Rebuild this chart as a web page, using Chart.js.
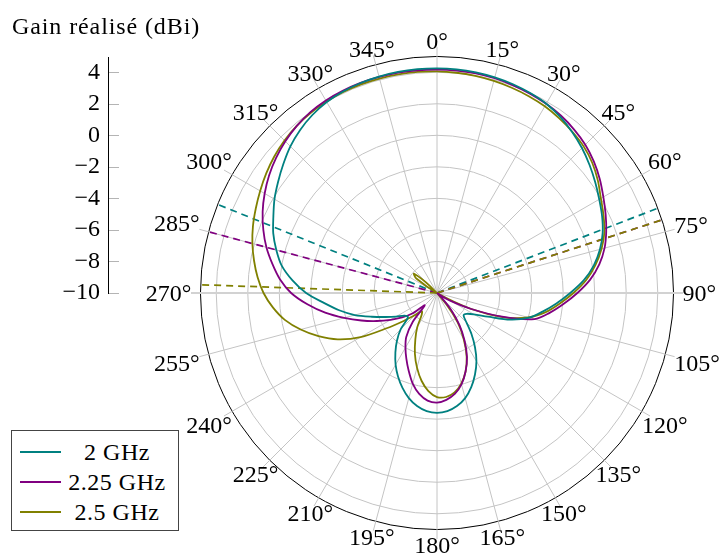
<!DOCTYPE html>
<html>
<head>
<meta charset="utf-8">
<script src="https://cdn.jsdelivr.net/npm/chart.js@4.4.1/dist/chart.umd.min.js"></script>
<style>
  html, body { margin: 0; padding: 0; background: #fff; overflow: hidden; }
  body { width: 721px; height: 557px; position: relative; font-family: "Liberation Serif", serif; color: #000; }
  canvas { position: absolute; left: 0; top: 0; }
  #ylabel { position: absolute; left: 12px; top: 14px; font-size: 24px; line-height: 24px; letter-spacing: 0.9px; white-space: nowrap; }
  #legend { position: absolute; left: 11px; top: 430px; width: 166px; height: 99px; border: 1px solid #444; background: #fff; }
  .row { position: absolute; left: 0; width: 166px; height: 30px; }
  .row .swatch { position: absolute; left: 8px; top: 14px; width: 41px; height: 2px; }
  .row .txt { position: absolute; left: 105px; top: 3px; transform: translateX(-50%); font-size: 24px; line-height: 24px; letter-spacing: 0.5px; white-space: nowrap; }
</style>
</head>
<body>
<canvas id="polar" width="721" height="557"></canvas>
<canvas id="axis" width="200" height="320"></canvas>
<div id="ylabel">Gain réalisé (dBi)</div>
<div id="legend"></div>
<script>
// ---------- données (gain réalisé en dBi, pas de 5°) ----------
const ANGLES = [0, 5, 10, 15, 20, 25, 30, 35, 40, 45, 50, 55, 60, 65, 70, 75, 80, 85,
  90, 95, 100, 105, 110, 115, 120, 125, 130, 135, 140, 145, 150, 155, 160, 165, 170, 175,
  180, 185, 190, 195, 200, 205, 210, 215, 220, 225, 230, 235, 240, 245, 250, 255, 260, 265,
  270, 275, 280, 285, 290, 295, 300, 305, 310, 315, 320, 325, 330, 335, 340, 345, 350, 355];

const GAIN_2GHZ = [4.25, 4.24, 4.21, 4.16, 4.09, 3.99, 3.86, 3.63, 3.33, 3.00, 2.63, 2.25, 1.88, 1.55, 1.18, 0.70, 0.10, -0.65,
  -1.55, -2.40, -3.20, -3.95, -5.05, -6.45, -7.30, -7.70, -7.80, -7.35, -6.60, -5.80, -5.00, -4.30, -3.65, -3.10, -2.72, -2.48,
  -2.40, -2.48, -2.72, -3.10, -3.60, -4.15, -4.75, -5.40, -6.05, -6.75, -7.60, -7.50, -7.00, -6.40, -5.60, -4.60, -3.70, -2.80,
  -1.70, -0.80, 0.00, 0.55, 1.05, 1.45, 1.90, 2.30, 2.72, 3.15, 3.50, 3.78, 3.98, 4.10, 4.17, 4.21, 4.24, 4.25];

const GAIN_225GHZ = [4.17, 4.16, 4.14, 4.10, 4.03, 3.95, 3.85, 3.72, 3.53, 3.30, 2.98, 2.60, 2.18, 1.80, 1.42, 1.00, 0.45, -0.25,
  -1.10, -1.95, -2.75, -3.60, -5.60, -7.60, -9.00, -9.90, -9.95, -9.60, -8.60, -7.50, -6.50, -5.50, -4.70, -4.00, -3.50, -3.20,
  -3.05, -3.15, -3.50, -4.05, -4.75, -5.40, -6.00, -6.60, -7.60, -8.90, -8.00, -7.30, -6.60, -5.80, -4.90, -3.90, -2.80, -1.75,
  -0.75, 0.00, 0.60, 1.20, 1.72, 2.20, 2.62, 3.00, 3.32, 3.60, 3.83, 4.00, 4.10, 4.15, 4.18, 4.19, 4.19, 4.18];

const GAIN_25GHZ = [4.05, 4.02, 3.98, 3.92, 3.85, 3.77, 3.67, 3.52, 3.35, 3.15, 2.85, 2.45, 2.00, 1.65, 1.30, 0.80, 0.20, -0.50,
  -1.35, -2.20, -3.00, -4.00, -5.50, -7.60, -10.00, -11.60, -11.90, -10.60, -9.10, -7.70, -6.60, -5.55, -4.70, -4.05, -3.60, -3.38,
  -3.40, -3.75, -4.35, -5.10, -5.90, -6.75, -7.50, -8.30, -8.50, -8.00, -7.24, -6.10, -4.40, -3.05, -2.00, -1.05, -0.20, 0.45,
  1.00, 1.42, 1.78, 2.12, 2.42, 2.68, 2.95, 3.22, 3.47, 3.68, 3.84, 3.95, 4.02, 4.06, 4.08, 4.08, 4.08, 4.07];

// angles d'ouverture à -3 dB (traits pointillés)
const HALF_POWER_2GHZ = [69, 292];
const HALF_POWER_225GHZ = [72, 285];
const HALF_POWER_25GHZ = [72, 272];

const SERIES_NAMES = ["2 GHz", "2.25 GHz", "2.5 GHz"];
const ANGLE_TICKS = [0, 15, 30, 45, 60, 75, 90, 105, 120, 135, 150, 165, 180, 195, 210, 225, 240, 255, 270, 285, 300, 315, 330, 345];
const RING_TICKS = [-10, -8, -6, -4, -2, 0, 2, 4, 5];
const GAIN_TICKS = [-10, -8, -6, -4, -2, 0, 2, 4];
const GAIN_MIN = -10, GAIN_MAX = 5;

// ---------- styles ----------
const COLORS = ["#008080", "#800080", "#808000"];
const FONT = '"Liberation Serif", serif';
Chart.defaults.font.family = FONT;
Chart.defaults.color = "#000";

// ---------- helpers ----------
function toSlots(angles, gains) {
  const arr = new Array(360).fill(null);
  angles.forEach((a, i) => { arr[a % 360] = gains[i]; });
  return arr;
}
function rayslots(list) {
  const arr = new Array(360).fill(null);
  list.forEach(a => { arr[(a + 359) % 360] = GAIN_MIN; arr[a % 360] = GAIN_MAX; });
  return arr;
}
function minus(v) { return v < 0 ? "\u2212" + Math.abs(v) : String(v); }

const labels = Array.from({ length: 360 }, (_, i) => i);
const gains = [GAIN_2GHZ, GAIN_225GHZ, GAIN_25GHZ];
const halfPower = [HALF_POWER_2GHZ, HALF_POWER_225GHZ, HALF_POWER_25GHZ];

const datasets = [];
gains.forEach((g, i) => datasets.push({
  label: SERIES_NAMES[i], data: toSlots(ANGLES, g),
  borderColor: COLORS[i], borderWidth: 1.8, fill: false, spanGaps: true,
  pointRadius: 0, pointHitRadius: 0, tension: 0.3
}));
// pointillés : olive dessiné par-dessus le violet (même angle à droite)
[1, 0, 2].forEach(i => datasets.push({
  label: SERIES_NAMES[i] + " -3 dB", data: rayslots(halfPower[i]),
  borderColor: COLORS[i], borderWidth: 1.7, borderDash: [7, 5], fill: false, spanGaps: false,
  pointRadius: 0, pointHitRadius: 0, tension: 0, order: 2 - i
}));

// étiquettes d'angle placées comme pgfplots (ancre sur le bord du label)
const angleLabels = {
  id: "angleLabels",
  afterDraw(chart) {
    const s = chart.scales.r, ctx = chart.ctx;
    const R = s.getDistanceFromCenterForValue(GAIN_MAX) + 4;
    ctx.save();
    ctx.font = "24px " + FONT;
    ctx.fillStyle = "#000";
    ctx.textAlign = "center";
    ctx.textBaseline = "alphabetic";
    ANGLE_TICKS.forEach(a => {
      const p = s.getPointPosition(a, R);
      const txt = a + "\u00b0";
      const hw = ctx.measureText(txt).width / 2 + 5, hh = 8 + 3.3;
      const ux = Math.sin(a * Math.PI / 180), uy = -Math.cos(a * Math.PI / 180);
      const tx = Math.abs(ux) > 1e-6 ? hw / Math.abs(ux) : Infinity;
      const ty = Math.abs(uy) > 1e-6 ? hh / Math.abs(uy) : Infinity;
      const t = Math.min(tx, ty);
      ctx.fillText(txt, p.x + ux * t, p.y + uy * t + 8);
    });
    ctx.restore();
  }
};

new Chart(document.getElementById("polar"), {
  type: "radar",
  data: { labels, datasets },
  options: {
    responsive: false, animation: false,
    layout: { padding: { left: 191, right: 38, top: 47, bottom: 18 } },
    plugins: { legend: { display: false }, tooltip: { enabled: false } },
    scales: {
      r: {
        min: GAIN_MIN, max: 5.6,
        afterBuildTicks: s => { s.ticks = RING_TICKS.map(v => ({ value: v })); },
        ticks: { display: false },
        pointLabels: { display: false },
        grid: {
          circular: true,
          color: c => (c.tick && c.tick.value === GAIN_MAX) ? "#000" : "#c4c4c4",
          lineWidth: 1
        },
        angleLines: {
          color: c => c.index % 90 === 0 && c.index % 180 !== 0 ? "#d2d2d2" : "#c4c4c4",
          lineWidth: c => c.index % 15 !== 0 ? 0 : (c.index % 180 === 90 ? 2 : 1)
        }
      }
    }
  },
  plugins: [angleLabels]
});

// axe des gains à gauche
new Chart(document.getElementById("axis"), {
  type: "line",
  data: { datasets: [] },
  options: {
    responsive: false, animation: false,
    layout: { padding: { left: 0, right: 81, top: 57, bottom: 27 } },
    plugins: { legend: { display: false }, tooltip: { enabled: false } },
    scales: {
      x: { type: "linear", display: false, min: 0, max: 1 },
      y: {
        type: "linear", min: GAIN_MIN, max: GAIN_MAX,
        afterBuildTicks: s => { s.ticks = GAIN_TICKS.map(v => ({ value: v })); },
        afterFit: s => { s.width = 108; },
        ticks: { font: { size: 24 }, color: "#000", padding: 8, callback: v => minus(v) },
        grid: { color: "#b4b4b4", drawTicks: false },
        border: { color: "#000", width: 1 }
      }
    }
  }
});

// légende
const legend = document.getElementById("legend");
SERIES_NAMES.forEach((name, i) => {
  const row = document.createElement("div");
  row.className = "row";
  row.style.top = (6 + i * 30) + "px";
  row.innerHTML = `<span class="swatch" style="background:${COLORS[i]}"></span><span class="txt">${name}</span>`;
  legend.appendChild(row);
});
</script>
</body>
</html>
